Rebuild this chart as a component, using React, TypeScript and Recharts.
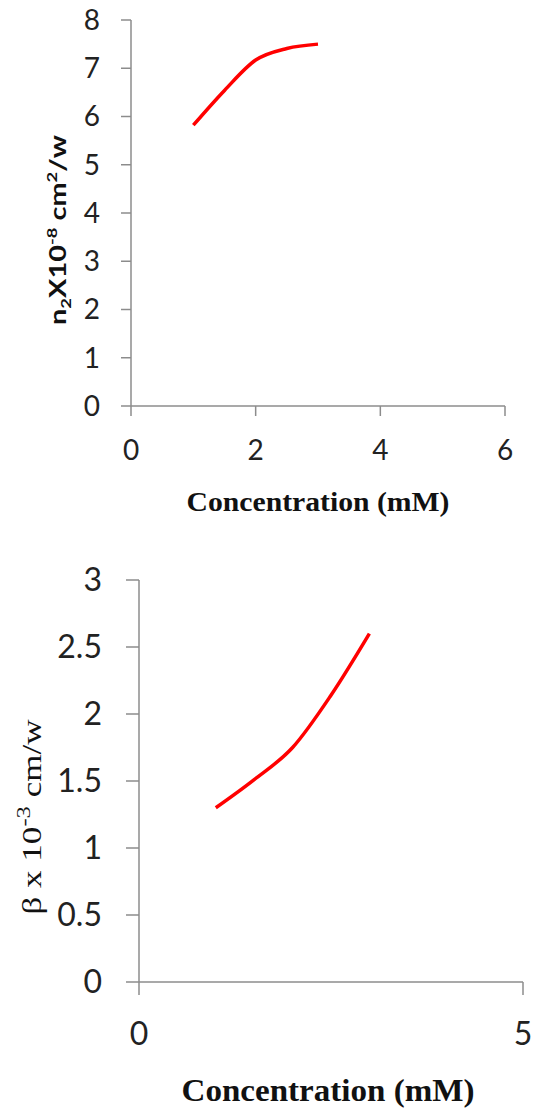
import React from "react"
import { LineChart, Line, XAxis, YAxis, Label } from "recharts"

const concentration = [1, 1.5, 2, 2.5, 3]
const n2Values = [5.82, 6.54, 7.17, 7.41, 7.5]
const betaValues = [1.3, 1.51, 1.75, 2.14, 2.6]

const n2XTicks = [0, 2, 4, 6]
const n2YTicks = [0, 1, 2, 3, 4, 5, 6, 7, 8]
const betaXTicks = [0, 5]
const betaYTicks = [0, 0.5, 1, 1.5, 2, 2.5, 3]

const axisColor = "#8c8c8c"
const tickFont = "Lato, 'Open Sans', sans-serif"
const serif = "'Liberation Serif', 'DejaVu Serif', serif"

const n2Data = concentration.map((c, i) => ({ c, v: n2Values[i] }))
const betaData = concentration.map((c, i) => ({ c, v: betaValues[i] }))

function N2Title() {
  return (
    <text
      transform="translate(66,230) rotate(-90)"
      textAnchor="middle"
      fontFamily={tickFont}
      fontWeight={700}
      fontSize={22}
      fill="#111"
      textLength={190}
      lengthAdjust="spacingAndGlyphs"
    >
      n<tspan dy={5} fontSize={14}>2</tspan>
      <tspan dy={-5}>X10</tspan>
      <tspan dy={-9} fontSize={14}>-8</tspan>
      <tspan dy={9}> cm</tspan>
      <tspan dy={-9} fontSize={14}>2</tspan>
      <tspan dy={9}>/w</tspan>
    </text>
  )
}

function BetaTitle() {
  return (
    <text
      transform="translate(41,257) rotate(-90)"
      textAnchor="middle"
      fontFamily={serif}
      fontSize={27}
      fill="#111"
      textLength={195}
      lengthAdjust="spacingAndGlyphs"
    >
      β x 10<tspan dy={-11} fontSize={19}>-3</tspan>
      <tspan dy={11}> cm/w</tspan>
    </text>
  )
}

function xTitle(x: number, y: number, size: number, len: number) {
  return () => (
    <text
      x={x}
      y={y}
      textAnchor="middle"
      fontFamily={serif}
      fontWeight={700}
      fontSize={size}
      fill="#111"
      textLength={len}
      lengthAdjust="spacingAndGlyphs"
    >
      Concentration (mM)
    </text>
  )
}

export default function App() {
  return (
    <div style={{ position: "absolute", left: 0, top: 0, width: 535, height: 1111, background: "#fff" }}>
      <div style={{ position: "absolute", left: 0, top: 0 }}>
        <LineChart width={535} height={530} data={n2Data} margin={{ top: 20, right: 30, left: 31, bottom: 64 }}>
          <XAxis
            dataKey="c"
            type="number"
            domain={[0, 6]}
            ticks={n2XTicks}
            interval={0}
            height={60}
            tickSize={10}
            tickMargin={24}
            stroke={axisColor}
            strokeWidth={1.5}
            tick={{ fontSize: 28, fill: "#222", fontFamily: tickFont }}
          >
            <Label content={xTitle(318, 511, 27, 263)} />
          </XAxis>
          <YAxis
            type="number"
            domain={[0, 8]}
            ticks={n2YTicks}
            interval={0}
            width={100}
            tickSize={10}
            tickMargin={21}
            stroke={axisColor}
            strokeWidth={1.5}
            tick={{ fontSize: 28, fill: "#222", fontFamily: tickFont }}
          >
            <Label content={() => <N2Title />} />
          </YAxis>
          <Line
            dataKey="v"
            type="monotone"
            stroke="#ff0000"
            strokeWidth={3.5}
            dot={false}
            isAnimationActive={false}
          />
        </LineChart>
      </div>
      <div style={{ position: "absolute", left: 0, top: 560 }}>
        <LineChart width={535} height={551} data={betaData} margin={{ top: 20, right: 12, left: 39, bottom: 69 }}>
          <XAxis
            dataKey="c"
            type="number"
            domain={[0, 5]}
            ticks={betaXTicks}
            interval={0}
            height={60}
            tickSize={13}
            tickMargin={27}
            stroke={axisColor}
            strokeWidth={1.5}
            tick={{ fontSize: 32, fill: "#222", fontFamily: tickFont }}
          >
            <Label content={xTitle(328, 541, 32, 293)} />
          </XAxis>
          <YAxis
            type="number"
            domain={[0, 3]}
            ticks={betaYTicks}
            interval={0}
            width={100}
            tickSize={13}
            tickMargin={24}
            stroke={axisColor}
            strokeWidth={1.5}
            tick={{ fontSize: 32, fill: "#222", fontFamily: tickFont }}
          >
            <Label content={() => <BetaTitle />} />
          </YAxis>
          <Line
            dataKey="v"
            type="monotone"
            stroke="#ff0000"
            strokeWidth={3.5}
            dot={false}
            isAnimationActive={false}
          />
        </LineChart>
      </div>
    </div>
  )
}
